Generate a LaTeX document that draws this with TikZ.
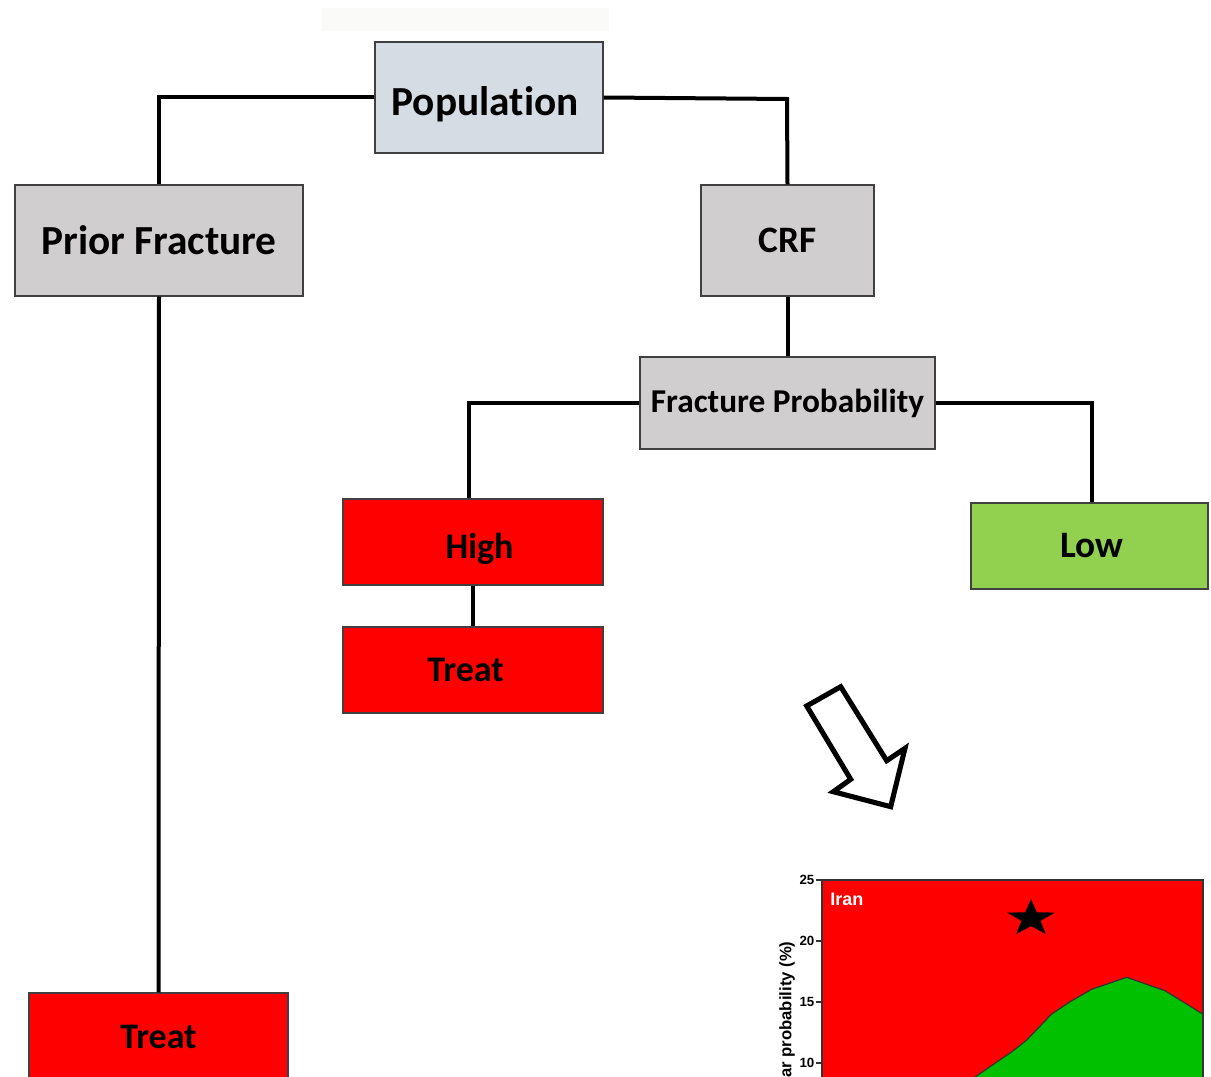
\documentclass[tikz,border=0pt]{standalone}
\usepackage{fontspec}
\setmainfont{Carlito}[Ligatures=NoCommon]
\newfontfamily\arialf{Liberation Sans}
\definecolor{popfill}{HTML}{D6DCE4}
\definecolor{grayfill}{HTML}{D0CECE}
\definecolor{redfill}{HTML}{FF0000}
\definecolor{lowfill}{HTML}{92D050}
\definecolor{chartgreen}{HTML}{00C000}
\definecolor{faint}{HTML}{FAFAF8}
\begin{document}
\begin{tikzpicture}[x=0.75pt,y=-0.75pt,
  box/.style={draw=black!75, line width=0.8pt, inner sep=0pt, rectangle, anchor=center},
  lbl/.style={inner sep=0pt, anchor=center},
  conn/.style={line width=3pt, black},
  tick/.style={font=\arialf\bfseries\fontsize{10}{12}\selectfont, anchor=east, inner sep=1pt}]
\useasboundingbox (0,0) rectangle (1211,1077);
\clip (0,0) rectangle (1211,1077);
\fill[faint] (322,8) rectangle (609,31);
% boxes
\node[box, fill=popfill, minimum width=171pt, minimum height=83.25pt] (pop) at (489,97.5) {};
\node[lbl, font=\bfseries\fontsize{31}{36}\selectfont] (popt) at (485,104.5) {Population};
\node[box, fill=grayfill, minimum width=216pt, minimum height=83.25pt, font=\bfseries\fontsize{31}{36}\selectfont] (pf) at (159,240.5) {Prior Fracture};
\node[box, fill=grayfill, minimum width=129.75pt, minimum height=83.25pt, font=\bfseries\fontsize{28}{32}\selectfont] (crf) at (787.5,240.5) {CRF};
\node[box, fill=grayfill, minimum width=221.25pt, minimum height=69pt, font=\bfseries\fontsize{25}{30}\selectfont] (fp) at (787.5,403) {Fracture Probability};
\node[box, fill=redfill, minimum width=195pt, minimum height=64.5pt] (high) at (473,542) {};
\node[lbl, font=\bfseries\fontsize{27}{32}\selectfont] (hight) at (479.5,549) {High};
\node[box, fill=redfill, minimum width=195pt, minimum height=64.5pt, font=\bfseries\fontsize{27}{32}\selectfont] (treatm) at (473,670) {Treat\hspace*{11pt}};
\node[box, fill=lowfill, minimum width=177.75pt, minimum height=64.5pt, font=\bfseries\fontsize{28}{32}\selectfont] (low) at (1089.5,546) {\hspace*{4pt}Low};
\node[box, fill=redfill, minimum width=194.25pt, minimum height=66pt, font=\bfseries\fontsize{27}{32}\selectfont] (treatb) at (158.5,1037) {Treat};
% connectors
\draw[conn] (pop.west) -| (pf.north);
\draw[conn] (pop.east) -- (787,99) -- (crf.north);
\draw[conn] (pf.south) -- (treatb.north);
\draw[conn] (crf.south) -- (fp.north);
\draw[conn] (fp.west) -| ([xshift=-3pt]high.north);
\draw[conn] (fp.east) -| ([xshift=1.5pt]low.north);
\draw[conn] (high.south) -- (treatm.north);
% block arrow
\draw[line width=3.8pt, fill=white, line join=miter]
  (806.7,706) -- (840.7,686.7) -- (886.7,760.7) -- (905,748.3) -- (890.7,806.7)
  -- (833.3,791.7) -- (850.7,779.3) -- cycle;
% chart
\fill[redfill] (822,880) rectangle (1203,1090);
\fill[chartgreen] (956,1090) -- (975,1077) -- (1013.3,1050.7) -- (1026.7,1040) -- (1051.7,1014)
  -- (1070,1001.7) -- (1091.7,989.3) -- (1126.7,977.3) -- (1165,990.7) -- (1202.7,1014)
  -- (1203,1090) -- cycle;
\draw[line width=0.9pt, black!80] (956,1090) -- (975,1077) -- (1013.3,1050.7) -- (1026.7,1040) -- (1051.7,1014)
  -- (1070,1001.7) -- (1091.7,989.3) -- (1126.7,977.3) -- (1165,990.7) -- (1202.7,1014);
\draw[line width=1.1pt, black!80] (822,1090) -- (822,880) -- (1203,880) -- (1203,1090);
\foreach \v/\yy in {25/880,20/941,15/1002,10/1063}{
  \draw[line width=0.9pt, black!80] (816,\yy) -- (822,\yy);
  \node[tick] (t\v) at (816,\yy) {\v};
}
\node[anchor=west, text=white, font=\arialf\bfseries\fontsize{13.5}{16}\selectfont, inner sep=0pt] (iran) at (830,899) {Iran};
\fill[black] (1031,899.3) \foreach \k in {1,...,9}{ -- ({1031+(mod(\k,2)==1 ? 10 : 25.2)*cos(90+36*\k)}, {918.5-(mod(\k,2)==1 ? 7.6 : 19.2)*sin(90+36*\k)}) } -- cycle;
\node[rotate=90, anchor=west, font=\arialf\bfseries\fontsize{12.5}{14}\selectfont, inner sep=0pt] (ylab) at (787,1078) {ar probability (\%)};
\end{tikzpicture}
\end{document}
